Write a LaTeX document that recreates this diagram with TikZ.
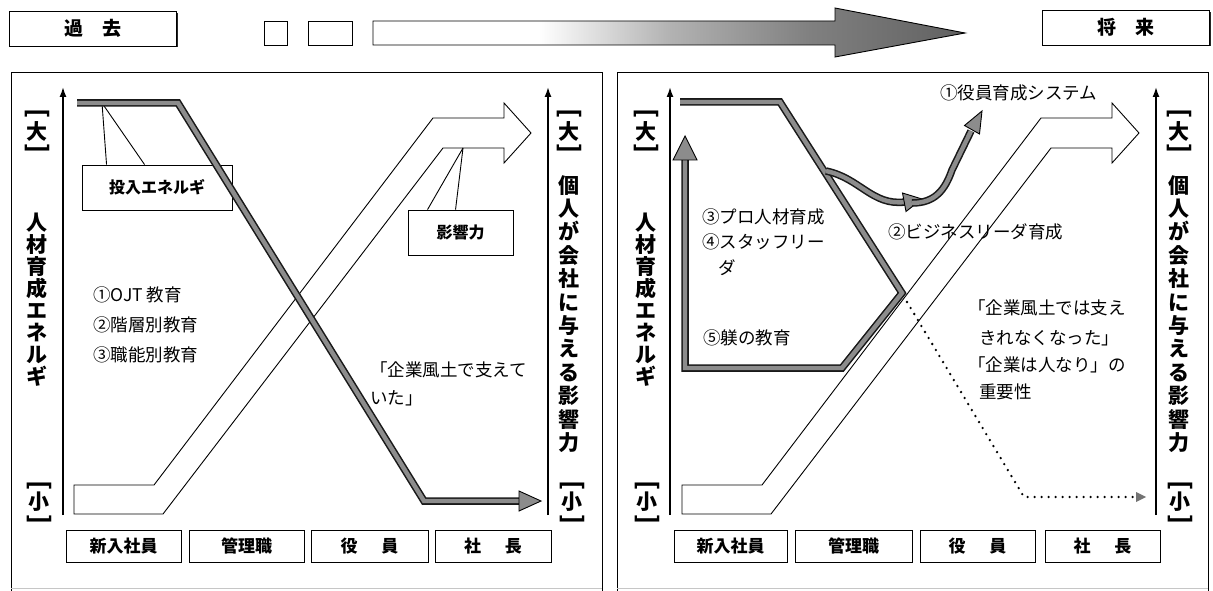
\documentclass[tikz,border=0pt]{standalone}
\usepackage{fontspec}
\setmainfont{Noto Sans CJK JP}
\usetikzlibrary{arrows.meta}
\pgfdeclarehorizontalshading{timearrow}{100bp}{color(0bp)=(white); color(25bp)=(white); color(39bp)=(white); color(50bp)=(black!30); color(62bp)=(black!50); color(75bp)=(black!62); color(100bp)=(black!62)}
\newcommand\energyband[1]{\draw[bandout] #1; \draw[bandin] #1;}
\begin{document}
\begin{tikzpicture}[x=1pt,y=-1pt,line width=0.9pt,
 frameline/.style={draw=black, line width=1pt},
 bandout/.style={draw=black!90, line width=7.5pt, line join=miter},
 bandin/.style={draw=black!45, line width=4.4pt, line join=miter},
 headtri/.style={fill=black!45, draw=black, line width=0.9pt, line join=miter},
 infl/.style={draw=black, fill=white, line width=0.9pt, line join=miter},
 axisline/.style={draw=black, line width=1.6pt, -{Latex[length=10pt,width=7pt]}},
 txt/.style={font=\fontsize{17.5}{20}\selectfont, inner sep=0pt, anchor=west},
 xbox/.style={draw=black, line width=0.9pt, fill=white, font=\bfseries\fontsize{17}{20}\selectfont, minimum width=115pt, minimum height=32pt, inner sep=0pt},
 topbox/.style={draw=black, line width=0.9pt, fill=white, font=\bfseries\fontsize{19}{22}\selectfont, minimum width=167pt, minimum height=35pt, inner sep=0pt},
 callbox/.style={draw=black, line width=0.9pt, fill=white, font=\bfseries\fontsize{16}{20}\selectfont, inner sep=0pt},
 vlab/.style={font=\bfseries\fontsize{21}{22}\selectfont, align=center, inner sep=0pt},
 vlabr/.style={font=\bfseries\fontsize{21}{23.4}\selectfont, align=center, inner sep=0pt},
 brk/.style={font=\bfseries\fontsize{25}{25}\selectfont, inner sep=0pt, rotate=-90},
 big/.style={font=\bfseries\fontsize{21}{22}\selectfont, inner sep=0pt},
 dotline/.style={draw=black, line width=2.6pt, line cap=round, dash pattern=on 0pt off 7pt}
]
\useasboundingbox (0,0) rectangle (1213,591);

% ---------- top row ----------
\fill[black!85] (11,13) rectangle (177.5,47);
\node[topbox] (past) at (92.5,28.5) {過\hspace{1em}去};
\fill[black!85] (1044,12) rectangle (1210.5,46.5);
\node[topbox] (future) at (1125.5,27.5) {将\hspace{1em}来};
\node[draw, line width=0.9pt, minimum width=23pt, minimum height=24pt, inner sep=0pt] (sq1) at (275.5,33) {};
\node[draw, line width=0.9pt, minimum width=44pt, minimum height=24pt, inner sep=0pt] (sq2) at (330,33) {};
\path[shading=timearrow, draw=black, line width=0.9pt, line join=miter]
  (373,21) -- (835,21) -- (835,8) -- (965,33) -- (835,57) -- (835,45) -- (373,45) -- cycle;

% ---------- panel frames ----------
\draw[frameline] (11,591) -- (11,73) -- (602,73) -- (602,591);
\draw[gray!45, line width=0.8pt] (11,588) -- (602,588);
\draw[frameline] (617,591) -- (617,73) -- (1208,73) -- (1208,591);
\draw[gray!45, line width=0.8pt] (617,588) -- (1208,588);

% ================= LEFT PANEL =================
\draw[axisline] (63,515) -- (63,87);
\draw[axisline] (548,515) -- (548,87);

% influence arrow
\draw[infl] (74,485) -- (154,485) -- (433,118) -- (504,118) -- (504,103) -- (531,133)
  -- (504,163) -- (504,148) -- (443,148) -- (163,514) -- (74,514) -- cycle;

% callout: influence
\coordinate (infA) at (463,148);
\node[callbox, minimum width=105pt, minimum height=45pt] (infbox) at (460.5,232.5) {影響力};
\draw (infbox.north west) ++(20,0) coordinate (infB1) -- (infA);
\draw (infbox.north west) ++(48,0) coordinate (infB2) -- (infA);

% callout: energy
\coordinate (enA) at (102,103);
\node[callbox, minimum width=150pt, minimum height=45pt] (enbox) at (157,187.5) {投入エネルギ};
\draw (enbox.north west) ++(25,0) coordinate (enB1) -- (enA);
\draw (enbox.north west) ++(63,0) coordinate (enB2) -- (enA);

% energy band
\energyband{(77,103) -- (178,103) -- (424,501) -- (520,501)}
\draw[headtri] (519,491) -- (541,501) -- (519,511) -- cycle;

% axis labels
\node[brk] (lbt1) at (37,114) {[};
\node[big] (lb1) at (37,131) {大};
\node[brk] (lbb1) at (37,148) {]};
\node[vlab] (lv1) at (37,300) {人\\材\\育\\成\\エ\\ネ\\ル\\ギ};
\node[brk] (lst1) at (39,485) {[};
\node[big] (ls1) at (39,502) {小};
\node[brk] (lsb1) at (39,519) {]};

\node[brk] (rbt1) at (569,114) {[};
\node[big] (rb1) at (569,131) {大};
\node[brk] (rbb1) at (569,148) {]};
\node[vlabr] (rv1) at (569,314) {個\\人\\が\\会\\社\\に\\与\\え\\る\\影\\響\\力};
\node[brk] (rst1) at (572,485) {[};
\node[big] (rs1) at (572,502) {小};
\node[brk] (rsb1) at (572,519) {]};

% texts
\node[txt] (t11) at (93,295) {①OJT 教育};
\node[txt] (t12) at (93,325) {②階層別教育};
\node[txt] (t13) at (93,355) {③職能別教育};
\node[txt] (t14) at (370,370) {「企業風土で支えて};
\node[txt] (t15) at (370,398) {いた」};

% x boxes
\node[xbox] (x11) at (123.5,546) {新入社員};
\node[xbox] (x12) at (246.5,546) {管理職};
\node[xbox, minimum width=117pt] (x13) at (369.5,546) {役\hspace{1.4em}員};
\node[xbox, minimum width=116pt] (x14) at (493,546) {社\hspace{1.4em}長};

% ================= RIGHT PANEL =================
\draw[axisline] (670,515) -- (670,87);
\draw[axisline] (1156,515) -- (1156,87);

\draw[infl] (682,485) -- (762,485) -- (1041,118) -- (1112,118) -- (1112,103) -- (1139,133)
  -- (1112,163) -- (1112,148) -- (1051,148) -- (771,514) -- (682,514) -- cycle;

% energy band
\energyband{(680,102) -- (780,102) -- (902,293) -- (842,368) -- (685,368) -- (685,158)}
\draw[headtri] (673,160) -- (685,136) -- (697,160) -- cycle;

% branch arrows
\energyband{(826,171) .. controls (860,178) and (872,206) .. (905,202)}
\draw[headtri] (906,211.5) -- (922,199) -- (902.5,193) -- cycle;
\energyband{(912,203) .. controls (935,203) and (945,190) .. (952,170) -- (971,131)}
\draw[headtri] (979.5,134) -- (982,111) -- (964.5,125.5) -- cycle;

% dotted continuation
\draw[dotline] (907,302) -- (1024,497) -- (1136,497);
\fill[black!55] (1136,492) -- (1146,497) -- (1136,502) -- cycle;

% axis labels
\node[brk] (lbt2) at (646,114) {[};
\node[big] (lb2) at (646,131) {大};
\node[brk] (lbb2) at (646,148) {]};
\node[vlab] (lv2) at (646,300) {人\\材\\育\\成\\エ\\ネ\\ル\\ギ};
\node[brk] (lst2) at (647,485) {[};
\node[big] (ls2) at (647,502) {小};
\node[brk] (lsb2) at (647,519) {]};

\node[brk] (rbt2) at (1179,114) {[};
\node[big] (rb2) at (1179,131) {大};
\node[brk] (rbb2) at (1179,148) {]};
\node[vlabr] (rv2) at (1179,314) {個\\人\\が\\会\\社\\に\\与\\え\\る\\影\\響\\力};
\node[brk] (rst2) at (1180,485) {[};
\node[big] (rs2) at (1180,502) {小};
\node[brk] (rsb2) at (1180,519) {]};

% texts
\node[txt] (t21) at (940,93) {①役員育成システム};
\node[txt] (t22) at (888,232) {②ビジネスリーダ育成};
\node[txt] (t23) at (702,217) {③プロ人材育成};
\node[txt] (t24) at (702,242) {④スタッフリー};
\node[txt] (t25) at (718,268) {ダ};
\node[txt] (t26) at (703,338) {⑤躾の教育};
\node[txt] (t27) at (968,308) {「企業風土では支え};
\node[txt] (t28) at (979,338) {きれなくなった」};
\node[txt] (t29) at (968,365) {「企業は人なり」の};
\node[txt] (t30) at (979,392) {重要性};

% x boxes
\node[xbox, minimum width=113pt] (x21) at (730.5,546) {新入社員};
\node[xbox, minimum width=117pt] (x22) at (853.5,546) {管理職};
\node[xbox, minimum width=115pt] (x23) at (977.5,546) {役\hspace{1.4em}員};
\node[xbox, minimum width=115pt] (x24) at (1102.5,546) {社\hspace{1.4em}長};
\end{tikzpicture}
\end{document}
